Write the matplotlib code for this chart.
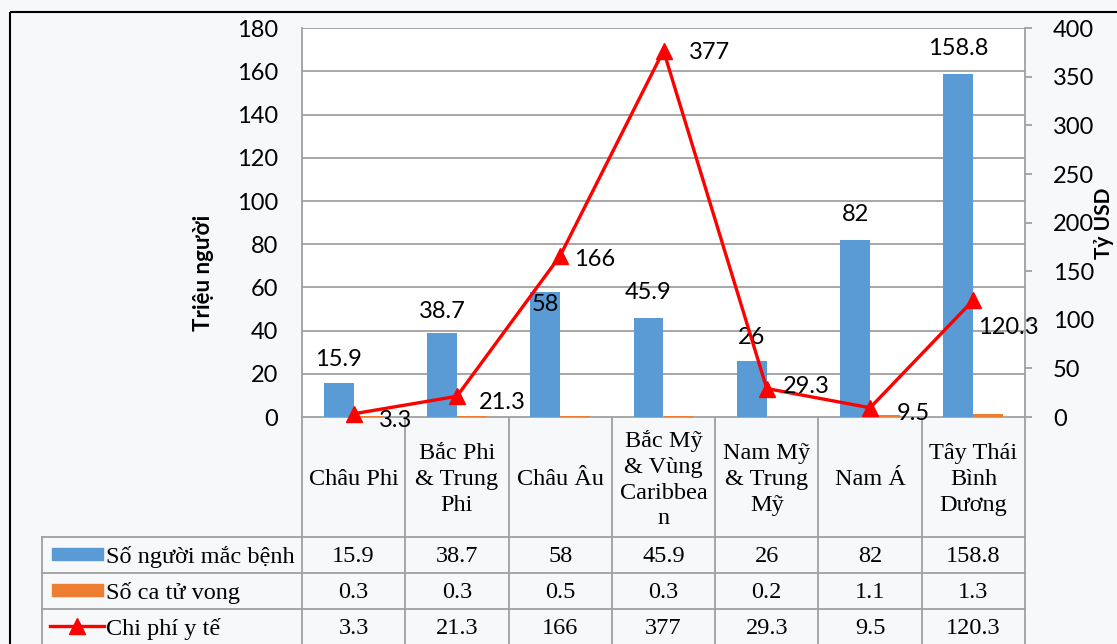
import matplotlib
matplotlib.use("Agg")
import matplotlib.pyplot as plt
from matplotlib.patches import Rectangle
from matplotlib.lines import Line2D
from matplotlib.transforms import blended_transform_factory

# Regions and the three series
regions = ["Châu Phi", "Bắc Phi\n& Trung\nPhi", "Châu Âu",
           "Bắc Mỹ\n& Vùng\nCaribbea\nn", "Nam Mỹ\n& Trung\nMỹ",
           "Nam Á", "Tây Thái\nBình\nDương"]
cases = [15.9, 38.7, 58, 45.9, 26, 82, 158.8]        # triệu người
deaths = [0.3, 0.3, 0.5, 0.3, 0.2, 1.1, 1.3]         # triệu người
costs = [3.3, 21.3, 166, 377, 29.3, 9.5, 120.3]      # tỷ USD

series_names = ["Số người mắc bệnh", "Số ca tử vong", "Chi phí y tế"]
left_ticks = list(range(0, 181, 20))
right_ticks = list(range(0, 401, 50))

# label nudges in pixels (dx, dy), dy positive = down
case_label_dy = [-23, -22, 13, -25, -23, -25, -26]
cost_label_off = [(25, 7), (22, 6), (14, 4), (25, 2), (16, -2), (27, 6), (5, 27)]

BLUE = "#5b9bd5"
ORANGE = "#ed7d31"
RED = "#ff0000"
GRID = "#a0a0a0"
BG = "#f7f8fa"
SANS = ["Lato", "Noto Sans", "DejaVu Sans"]
SERIF = ["Liberation Serif", "DejaVu Serif"]
FS = 17     # chart numbers
TFS = 17.5  # table text

W, H = 1117, 644
PX = 72 / 100  # points per pixel at dpi 100

fig = plt.figure(figsize=(W / 100, H / 100), dpi=100, facecolor=BG)

# pixel-space overlay for the frame, axis titles and the data table
tab = fig.add_axes([0, 0, 1, 1], zorder=-1)
tab.set_xlim(0, W)
tab.set_ylim(H, 0)
tab.axis("off")
tab.patch.set_alpha(0)

p_left, p_right, p_top, p_bot = 302, 1025, 28.3, 417
ax = fig.add_axes([p_left / W, 1 - p_bot / H, (p_right - p_left) / W, (p_bot - p_top) / H])
ax.set_facecolor("white")
ax2 = ax.twinx()

n = len(regions)
x = list(range(n))
bw = 0.29
ax.bar([i - bw / 2 for i in x], cases, width=bw, color=BLUE, zorder=2)
ax.bar([i + bw / 2 for i in x], deaths, width=bw, color=ORANGE, zorder=2)
ax.set_xlim(-0.5, n - 0.5)
ax.set_ylim(0, 180)
ax.set_yticks(left_ticks)
ax.set_xticks([])
ax.yaxis.grid(True, color=GRID, linewidth=1.3)
ax.set_axisbelow(True)
ax.tick_params(axis="y", length=0, pad=17, labelsize=FS)
for lab in ax.get_yticklabels():
    lab.set_family(SANS)
for side in ["top", "bottom", "right"]:
    ax.spines[side].set_visible(False)
ax.spines["left"].set_color(GRID)
ax.spines["left"].set_linewidth(1.3)

for i, v in enumerate(cases):
    ax.annotate(f"{v:g}", (i - bw / 2, v), xytext=(0, -case_label_dy[i] * PX),
                textcoords="offset points", ha="center", va="center",
                fontsize=FS, family=SANS, zorder=5)

ax2.plot(x, costs, color=RED, linewidth=2.4, marker="^", markersize=11,
         clip_on=False, zorder=4)
ax2.set_ylim(0, 400)
ax2.set_yticks(right_ticks)
ax2.tick_params(axis="y", length=5, width=1.3, color=GRID, pad=15, labelsize=FS)
for lab in ax2.get_yticklabels():
    lab.set_family(SANS)
for side in ["top", "bottom", "left"]:
    ax2.spines[side].set_visible(False)
ax2.spines["right"].set_color(GRID)
ax2.spines["right"].set_linewidth(1.3)

for i, v in enumerate(costs):
    dx, dy = cost_label_off[i]
    ax2.annotate(f"{v:g}", (i, v), xytext=(dx * PX, -dy * PX),
                 textcoords="offset points", ha="left", va="center",
                 fontsize=FS, family=SANS, zorder=5, annotation_clip=False)

# axis titles
tab.text(203, 273, "Triệu người", rotation=90, ha="center", va="center",
         family=SANS, fontsize=16, fontweight="bold")
tab.text(1104, 223, "Tỷ USD", rotation=90, ha="center", va="center",
         family=SANS, fontsize=15, fontweight="bold")

# outer frame
tab.add_patch(Rectangle((9.5, 12), W, H, fill=False, edgecolor="black", linewidth=1.5))

# data table under the plot: columns follow the category axis
colx = blended_transform_factory(ax.transData, tab.transData)
hdr_top, hdr_bot = p_bot, 536.5
row_edges = [hdr_bot, 573, 609, 646]
tbl_left = 42
lw = 1.3

for k in range(n + 1):
    tab.add_line(Line2D([k - 0.5, k - 0.5], [hdr_top, H + 5], transform=colx,
                        color=GRID, linewidth=lw))
tab.add_line(Line2D([tbl_left, tbl_left], [hdr_bot, H + 5], color=GRID, linewidth=lw))
x_right = ax.transData.transform((n - 0.5, 0))[0]
for y in row_edges:
    tab.add_line(Line2D([tbl_left, x_right], [y, y], color=GRID, linewidth=lw))
tab.add_line(Line2D([p_left, x_right], [hdr_top, hdr_top], color=GRID, linewidth=lw))

for i, name in enumerate(regions):
    tab.text(i, (hdr_top + hdr_bot) / 2 + 3, name, transform=colx, ha="center",
             va="center", family=SERIF, fontsize=TFS, linespacing=1.3)

rows = [cases, deaths, costs]
row_text_y = [557, 593, 629]
for r, vals in enumerate(rows):
    yc = row_text_y[r]
    for i, v in enumerate(vals):
        tab.text(i, yc, f"{v:g}", transform=colx, ha="center", va="center",
                 family=SERIF, fontsize=TFS)
    tab.text(106, yc, series_names[r], ha="left", va="center", family=SERIF, fontsize=TFS)

# legend keys in the first column
for r, col in enumerate([BLUE, ORANGE]):
    yc = row_text_y[r] - 3
    tab.add_patch(Rectangle((52, yc - 6), 51, 12, color=col))
yc = row_text_y[2] - 3
tab.add_line(Line2D([50, 104], [yc, yc], color=RED, linewidth=2.4))
tab.add_line(Line2D([77], [yc], color=RED, marker="^", markersize=11))

fig.savefig("out.png", dpi=100, facecolor=BG)
